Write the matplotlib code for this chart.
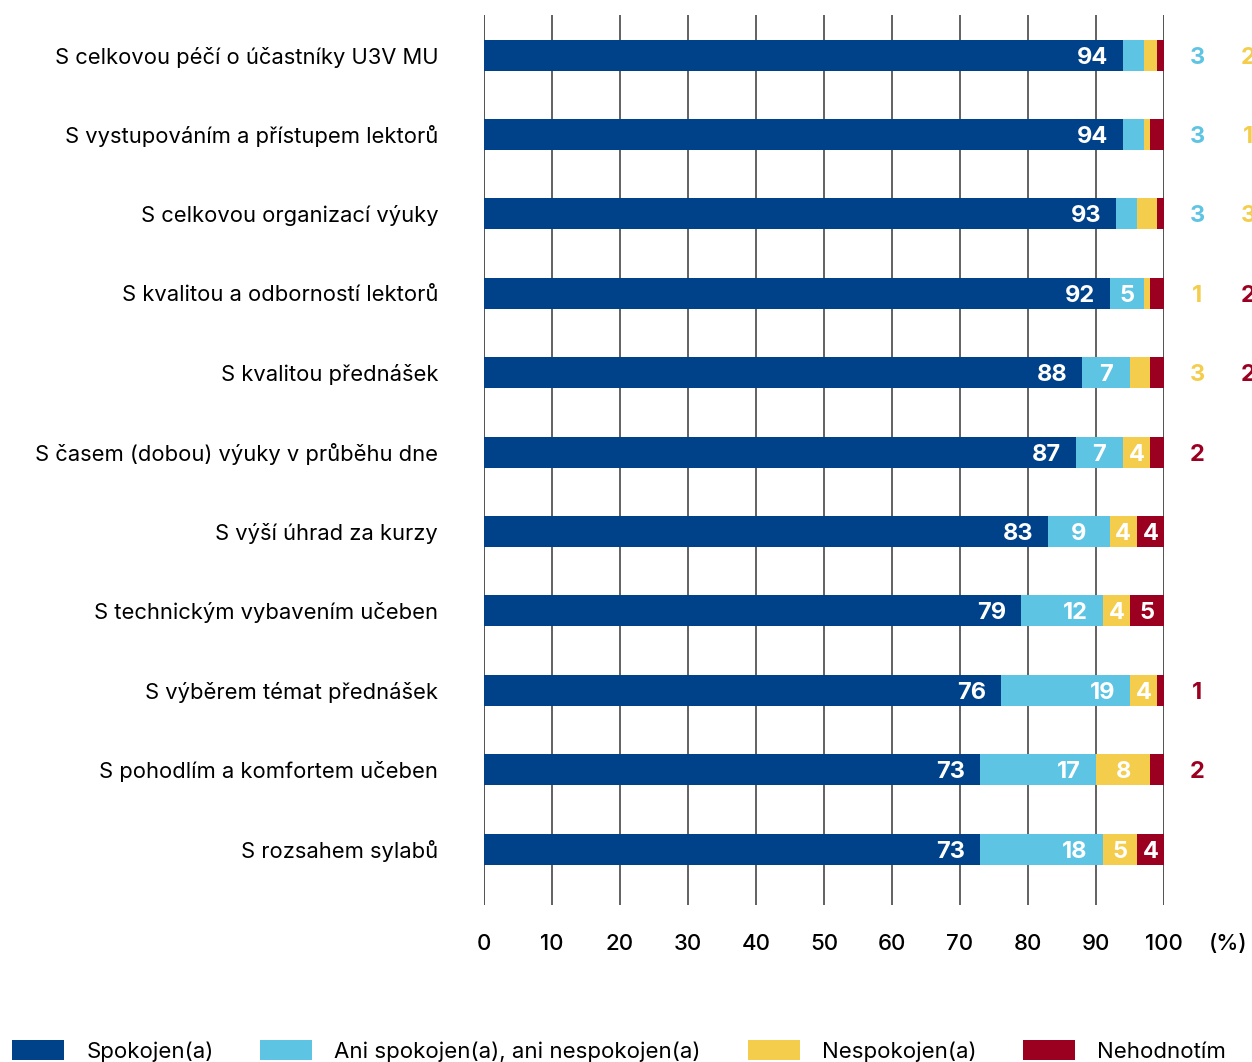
import matplotlib
matplotlib.use("Agg")
import matplotlib.pyplot as plt
import matplotlib.transforms as mtransforms
import numpy as np
from matplotlib.patches import Patch

plt.rcParams["font.family"] = ["Inter", "DejaVu Sans"]

CATEGORIES = [
    "S celkovou péčí o účastníky U3V MU",
    "S vystupováním a přístupem lektorů",
    "S celkovou organizací výuky",
    "S kvalitou a odborností lektorů",
    "S kvalitou přednášek",
    "S časem (dobou) výuky v průběhu dne",
    "S výší úhrad za kurzy",
    "S technickým vybavením učeben",
    "S výběrem témat přednášek",
    "S pohodlím a komfortem učeben",
    "S rozsahem sylabů",
]
SPOKOJEN = [94, 94, 93, 92, 88, 87, 83, 79, 76, 73, 73]
ANI = [3, 3, 3, 5, 7, 7, 9, 12, 19, 17, 18]
NESPOKOJEN = [2, 1, 3, 1, 3, 4, 4, 4, 4, 8, 5]
NEHODNOTIM = [1, 2, 1, 2, 2, 2, 4, 5, 1, 2, 4]

SERIES = ["Spokojen(a)", "Ani spokojen(a), ani nespokojen(a)",
          "Nespokojen(a)", "Nehodnotím"]
COLORS = ["#00428a", "#5ec4e3", "#f4cd4c", "#9c0020"]
XTICKS = list(range(0, 101, 10))

fig = plt.figure(figsize=(12.52, 10.62), dpi=100)
ax = fig.add_axes([484 / 1252, 1 - 905 / 1062, 680 / 1252, 890 / 1062])

y = np.arange(len(CATEGORIES))
data = [SPOKOJEN, ANI, NESPOKOJEN, NEHODNOTIM]
left = np.zeros(len(CATEGORIES))
outside = [[] for _ in CATEGORIES]
for vals, col in zip(data, COLORS):
    vals = np.array(vals, dtype=float)
    ax.barh(y, vals, left=left, height=0.39, color=col, zorder=3)
    for i, v in enumerate(vals):
        if v >= 4:
            if v >= 10:
                ax.text(left[i] + v - 2.2, y[i], f"{int(v)}", ha="right",
                        va="center_baseline", color="white", fontsize=17,
                        fontweight="bold", zorder=4)
            else:
                ax.text(left[i] + v / 2, y[i], f"{int(v)}", ha="center",
                        va="center_baseline", color="white", fontsize=17,
                        fontweight="bold", zorder=4)
        else:
            outside[i].append((int(v), col))
    left += vals

# small values written to the right of the bar (cut at the figure edge)
for i, items in enumerate(outside):
    for k, (v, col) in enumerate(items):
        ax.text(104.9 + k * 7.5, y[i], f"{v}", ha="center",
                va="center_baseline", color=col, fontsize=17,
                fontweight="bold", clip_on=False)

ax.set_xlim(0, 100)
ax.set_ylim(10.705, -0.504)
ax.set_xticks(XTICKS)
ax.set_xticklabels([str(t) for t in XTICKS], fontsize=16, fontweight="medium")
ax.set_yticks(y)
ax.set_yticklabels(CATEGORIES, fontsize=15.8)
ax.tick_params(axis="x", length=0, pad=21)
ax.tick_params(axis="y", length=0, pad=33)
for s in ax.spines.values():
    s.set_visible(False)
ax.grid(axis="x", color="#555555", lw=1.3, zorder=1)
ax.axvline(0, color="#555555", lw=1.3, zorder=1)
ax.axvline(100, color="#555555", lw=1.3, zorder=1)

pct = ax.text(109.4, 0, "(%)", fontsize=16, fontweight="medium",
              ha="center", va="top", clip_on=False)
# align (%) with the tick labels
fig.canvas.draw()
bb = ax.get_xticklabels()[0].get_window_extent()
pct.set_transform(mtransforms.blended_transform_factory(
    ax.transData, mtransforms.IdentityTransform()))
pct.set_position((109.4, bb.y1))

handles = [Patch(facecolor=c, label=s) for c, s in zip(COLORS, SERIES)]
fig.legend(handles=handles, loc="center left",
           bbox_to_anchor=(12 / 1252, 1 - 1051 / 1062), ncol=4,
           frameon=False, fontsize=16, handlelength=2.34, handleheight=0.99,
           handletextpad=1.0, columnspacing=2.1, borderpad=0,
           borderaxespad=0)

fig.savefig("out.png", dpi=100)
